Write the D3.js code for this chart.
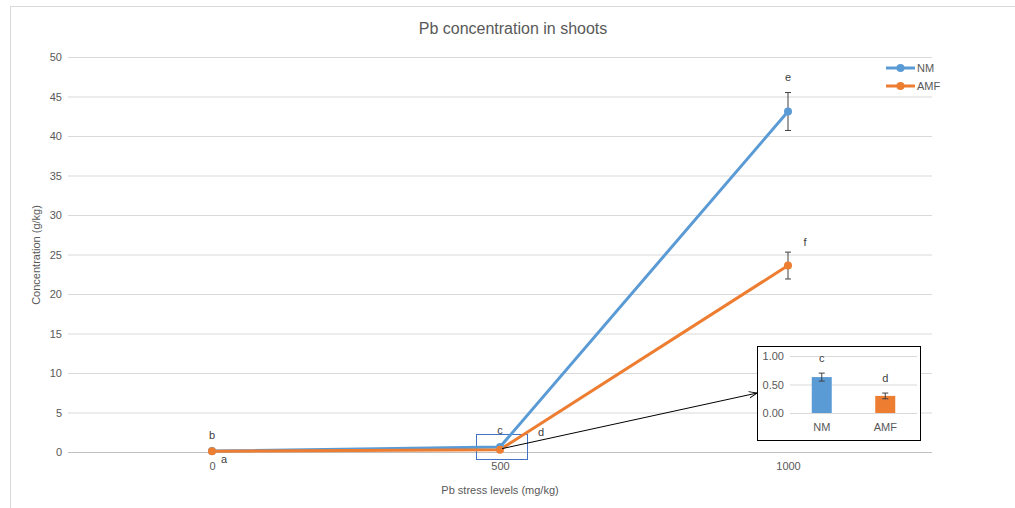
<!DOCTYPE html>
<html>
<head>
<meta charset="utf-8">
<script src="https://cdn.jsdelivr.net/npm/d3@7"></script>
<style>
  body { margin: 0; background: #fff; }
  text { font-family: "Liberation Sans", Arial, sans-serif; fill: #595959; }
</style>
</head>
<body>
<div id="chart"></div>
<script>
// data
const levels = ["0", "500", "1000"];
const nmValues = [0.12, 0.63, 43.1];
const amfValues = [0.10, 0.30, 23.6];
const nmErr = [0.02, 0.07, 2.4];
const amfErr = [0.02, 0.05, 1.7];
const nmLetters = ["b", "c", "e"];
const amfLetters = ["a", "d", "f"];
const yTicks = [0, 5, 10, 15, 20, 25, 30, 35, 40, 45, 50];

// inset (500 mg/kg zoom)
const insetCats = ["NM", "AMF"];
const insetValues = [0.63, 0.30];
const insetErr = [0.07, 0.05];
const insetLetters = ["c", "d"];
const insetTicks = [0, 0.5, 1];

const blue = "#5b9bd5", orange = "#ed7d31";

drawChart()

function drawChart() {
	var svg = d3.select("#chart")
		.append("svg")
		.attr("width", 1015)
		.attr("height", 508)

	// chart frame
	svg.append("rect")
		.attr("x", 10.5).attr("y", 6.5)
		.attr("width", 1010).attr("height", 510)
		.style("fill", "none")
		.style("stroke", "#d9d9d9")

	svg.append("text")
		.attr("x", 513).attr("y", 34)
		.style("text-anchor", "middle")
		.style("font-size", "16px")
		.text("Pb concentration in shoots")

	const x = d3.scalePoint().domain(levels).range([68, 932]).padding(0.5);
	const y = d3.scaleLinear().domain([0, 50]).range([452, 57]);

	// gridlines
	svg.append("g")
		.selectAll("line")
		.data(yTicks)
		.join("line")
		.attr("x1", 68).attr("x2", 932)
		.attr("y1", d => y(d) + 0.5).attr("y2", d => y(d) + 0.5)
		.style("stroke", d => d == 0 ? "#bfbfbf" : "#d9d9d9")

	const yAxis = svg.append("g")
		.attr("transform", "translate(62,0)")
		.call(d3.axisLeft(y).tickValues(yTicks).tickSize(0).tickPadding(0))
	yAxis.select(".domain").remove()
	yAxis.selectAll("text").style("font-size", "11px").style("fill", "#595959").attr("font-family", null)

	const xAxis = svg.append("g")
		.attr("transform", "translate(0,452)")
		.call(d3.axisBottom(x).tickSize(0).tickPadding(10))
	xAxis.select(".domain").remove()
	xAxis.selectAll("text").style("font-size", "11px").style("fill", "#595959").attr("font-family", null)

	svg.append("text")
		.attr("x", 500).attr("y", 494)
		.style("text-anchor", "middle")
		.style("font-size", "11px")
		.text("Pb stress levels (mg/kg)")

	svg.append("text")
		.attr("transform", "translate(40,255) rotate(-90)")
		.style("text-anchor", "middle")
		.style("font-size", "11px")
		.text("Concentration (g/kg)")

	// small box round the 500 points
	svg.append("rect")
		.attr("x", x("500") - 23.5).attr("y", y(0) - 17.5)
		.attr("width", 51).attr("height", 25)
		.style("fill", "none")
		.style("stroke", "#4472c4")
		.style("stroke-width", 1)

	const series = [
		{ name: "NM", values: nmValues, err: nmErr, letters: nmLetters, color: blue,
		  offs: [[0, -16], [0, -17], [0, -34]] },
		{ name: "AMF", values: amfValues, err: amfErr, letters: amfLetters, color: orange,
		  offs: [[12, 8], [41, -17], [17, -23]] }
	];

	const line = d3.line()
		.x((d, i) => x(levels[i]))
		.y(d => y(d));

	series.forEach(function(s) {
		svg.append("path")
			.datum(s.values)
			.attr("d", line)
			.style("fill", "none")
			.style("stroke", s.color)
			.style("stroke-width", 3)
	})

	series.forEach(function(s) {
		const g = svg.append("g")
		const eb = g.selectAll(".eb")
			.data(s.values.map((v, i) => ({ v: v, e: s.err[i], k: levels[i] })))
			.join("g")
		eb.append("line")
			.attr("x1", d => x(d.k)).attr("x2", d => x(d.k))
			.attr("y1", d => y(d.v - d.e)).attr("y2", d => y(d.v + d.e))
			.style("stroke", "#404040")
		eb.selectAll(".cap")
			.data(d => [d.v - d.e, d.v + d.e].map(c => ({ c: c, k: d.k })))
			.join("line")
			.attr("x1", d => x(d.k) - 3).attr("x2", d => x(d.k) + 3)
			.attr("y1", d => y(d.c)).attr("y2", d => y(d.c))
			.style("stroke", "#404040")

		g.selectAll("circle")
			.data(s.values)
			.join("circle")
			.attr("cx", (d, i) => x(levels[i]))
			.attr("cy", d => y(d))
			.attr("r", 4)
			.style("fill", s.color)

		g.selectAll(".lab")
			.data(s.values)
			.join("text")
			.attr("x", (d, i) => x(levels[i]) + s.offs[i][0])
			.attr("y", (d, i) => y(d) + s.offs[i][1])
			.attr("dy", "0.35em")
			.style("text-anchor", "middle")
			.style("font-size", "11px")
			.style("fill", "#404040")
			.text((d, i) => s.letters[i])
	})

	// legend
	const legend = svg.append("g")
		.selectAll("g")
		.data(series)
		.join("g")
		.attr("transform", (d, i) => `translate(886,${68 + i * 18})`)
	legend.append("line")
		.attr("x1", 0).attr("x2", 29)
		.style("stroke", d => d.color)
		.style("stroke-width", 3)
	legend.append("circle")
		.attr("cx", 14.5).attr("r", 4)
		.style("fill", d => d.color)
	legend.append("text")
		.attr("x", 31).attr("dy", "0.35em")
		.style("font-size", "11px")
		.text(d => d.name)

	// inset
	const ix = d3.scaleBand().domain(insetCats).range([790, 917]);
	const iy = d3.scaleLinear().domain([0, 1]).range([413, 356]);

	// arrow
	svg.append("defs").append("marker")
		.attr("id", "arrow")
		.attr("viewBox", "0 0 10 10")
		.attr("refX", 10).attr("refY", 5)
		.attr("markerWidth", 8).attr("markerHeight", 8)
		.attr("orient", "auto")
		.append("path")
		.attr("d", "M0,1 L10,5 L0,9")
		.style("fill", "none")
		.style("stroke", "#000")
		.style("stroke-width", 1.2)

	svg.append("line")
		.attr("x1", x("500") + 2).attr("y1", y(amfValues[1]) - 1)
		.attr("x2", 757).attr("y2", iy(0.35))
		.style("stroke", "#000")
		.style("stroke-width", 1)
		.attr("marker-end", "url(#arrow)")

	svg.append("rect")
		.attr("x", 757.5).attr("y", 346.5)
		.attr("width", 163).attr("height", 94)
		.style("fill", "#fff")
		.style("stroke", "#000")
		.style("stroke-width", 1)

	svg.append("g")
		.selectAll("line")
		.data(insetTicks)
		.join("line")
		.attr("x1", 790).attr("x2", 917)
		.attr("y1", d => iy(d) + 0.5).attr("y2", d => iy(d) + 0.5)
		.style("stroke", "#d9d9d9")

	const iyAxis = svg.append("g")
		.attr("transform", "translate(784,0)")
		.call(d3.axisLeft(iy).tickValues(insetTicks).tickFormat(d3.format(".2f")).tickSize(0).tickPadding(0))
	iyAxis.select(".domain").remove()
	iyAxis.selectAll("text").style("font-size", "11px").style("fill", "#595959").attr("font-family", null)

	const ixAxis = svg.append("g")
		.attr("transform", "translate(0,413)")
		.call(d3.axisBottom(ix).tickSize(0).tickPadding(10))
	ixAxis.select(".domain").remove()
	ixAxis.selectAll("text").style("font-size", "11px").style("fill", "#595959").attr("font-family", null)

	svg.append("g")
		.selectAll("rect")
		.data(insetValues)
		.join("rect")
		.attr("x", (d, i) => ix(insetCats[i]) + ix.bandwidth() / 2 - 10)
		.attr("y", d => iy(d))
		.attr("width", 20)
		.attr("height", d => iy(0) - iy(d))
		.style("fill", (d, i) => i == 0 ? blue : orange)

	const ieb = svg.append("g")
		.selectAll("g")
		.data(insetValues.map((v, i) => ({ v: v, e: insetErr[i], cx: ix(insetCats[i]) + ix.bandwidth() / 2 })))
		.join("g")
	ieb.append("line")
		.attr("x1", d => d.cx).attr("x2", d => d.cx)
		.attr("y1", d => iy(d.v - d.e)).attr("y2", d => iy(d.v + d.e))
		.style("stroke", "#404040")
	ieb.selectAll(".cap")
		.data(d => [d.v - d.e, d.v + d.e].map(c => ({ c: c, cx: d.cx })))
		.join("line")
		.attr("x1", d => d.cx - 3).attr("x2", d => d.cx + 3)
		.attr("y1", d => iy(d.c)).attr("y2", d => iy(d.c))
		.style("stroke", "#404040")

	svg.append("g")
		.selectAll("text")
		.data(insetValues)
		.join("text")
		.attr("x", (d, i) => ix(insetCats[i]) + ix.bandwidth() / 2)
		.attr("y", (d, i) => iy(d + insetErr[i]) - 15)
		.attr("dy", "0.35em")
		.style("text-anchor", "middle")
		.style("font-size", "11px")
		.style("fill", "#404040")
		.text((d, i) => insetLetters[i])
}
</script>
</body>
</html>
